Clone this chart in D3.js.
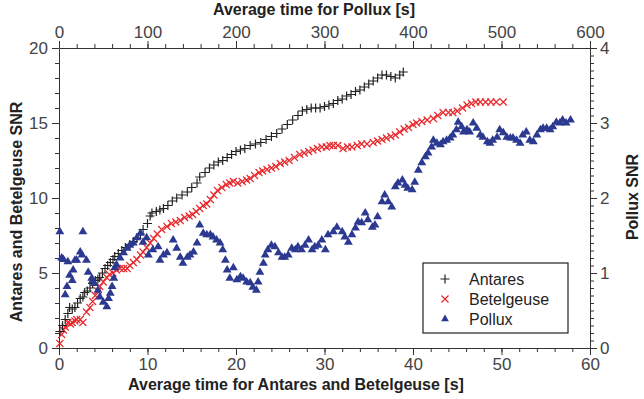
<!DOCTYPE html>
<html>
<head>
<meta charset="utf-8">
<script src="https://cdn.jsdelivr.net/npm/d3@7"></script>
<style>
  body { margin: 0; background: #fff; }
  svg { display: block; font-family: "Liberation Sans", Arial, sans-serif; }
  .tick text { fill: #444; font-size: 17px; }
  .domain, .tick line { stroke: #333; }
  .title { font-weight: bold; font-size: 16px; fill: #222; }
</style>
</head>
<body>
<svg width="644" height="399"></svg>
<script>
// Antares: time [s], SNR
var antaresT = [0.1,0.4,0.7,1.0,1.2,1.5,1.8,2.1,2.4,2.7,2.9,3.2,3.5,3.8,4.1,4.4,4.6,4.9,5.2,5.5,5.8,6.1,6.3,6.7,7.1,7.5,8.0,8.4,8.8,9.2,9.5,10.0,10.3,10.5,11.0,11.4,11.8,12.3,12.8,13.3,13.9,14.5,15.0,15.6,15.9,16.5,17.0,17.5,18.0,18.5,19.0,19.5,20.0,20.5,21.0,21.6,22.2,22.8,23.4,24.0,24.6,25.2,25.8,26.4,27.0,27.5,28.0,28.5,29.0,29.5,30.0,30.5,31.0,31.5,32.0,32.5,33.0,33.5,34.0,34.5,35.0,35.5,36.0,36.5,37.0,37.5,38.0,38.5,38.9];
var antaresSNR = [1.1,1.5,1.9,2.3,2.7,2.6,2.7,3.0,3.3,3.4,3.7,3.8,4.0,4.3,4.5,4.6,4.7,5.0,5.3,5.5,5.7,5.9,6.1,6.3,6.5,6.7,6.9,7.1,7.3,7.6,7.9,8.3,8.8,9.0,9.1,9.2,9.3,9.5,9.8,10.0,10.2,10.4,10.7,11.0,11.4,11.7,12.0,12.2,12.4,12.5,12.7,12.9,13.1,13.2,13.3,13.5,13.6,13.7,13.9,14.1,14.3,14.6,14.9,15.2,15.5,15.8,15.9,16.0,16.0,16.0,16.1,16.2,16.3,16.5,16.6,16.8,16.9,17.1,17.2,17.4,17.6,17.8,18.0,18.2,18.2,18.1,18.0,18.2,18.4];

// Betelgeuse: time [s], SNR
var betelT = [0.1,0.3,0.5,0.7,1.0,1.3,1.5,1.8,2.0,2.4,2.7,3.1,3.5,3.8,4.1,4.4,4.6,5.0,5.4,5.7,6.1,6.5,6.9,7.3,7.7,8.0,8.4,8.8,9.2,9.5,9.9,10.3,10.7,11.1,11.6,12.2,12.7,13.2,13.7,14.2,14.7,15.1,15.5,15.9,16.3,16.7,17.1,17.5,17.9,18.4,18.9,19.3,19.7,20.2,20.7,21.2,21.6,22.1,22.6,23.0,23.5,24.0,24.5,25.0,25.5,26.0,26.6,27.2,27.7,28.2,28.7,29.2,29.7,30.2,30.6,31.0,31.5,32.1,32.6,33.1,33.7,34.2,34.8,35.5,36.0,36.5,37.0,37.5,38.0,38.5,39.0,39.5,40.0,40.4,41.0,41.6,42.3,42.8,43.4,44.0,44.5,45.0,45.6,46.1,46.6,47.1,47.6,48.2,48.8,49.4,50.2];
var betelSNR = [0.3,0.9,1.2,1.4,1.7,1.6,1.7,1.8,1.9,1.9,1.7,2.4,2.7,3.1,3.5,3.8,4.1,4.4,4.7,4.9,5.0,5.2,5.3,5.3,5.3,5.5,5.7,5.9,6.2,6.4,6.7,7.0,7.3,7.6,7.9,8.1,8.3,8.4,8.5,8.7,8.8,8.9,9.1,9.3,9.5,9.6,9.9,10.2,10.5,10.7,10.9,11.0,11.1,11.0,11.1,11.2,11.3,11.5,11.7,11.8,11.9,12.0,12.1,12.3,12.4,12.5,12.7,12.9,13.0,13.1,13.2,13.3,13.4,13.4,13.5,13.5,13.5,13.3,13.4,13.4,13.5,13.6,13.6,13.7,13.8,13.9,14.0,14.1,14.2,14.4,14.6,14.7,14.9,15.0,15.1,15.2,15.3,15.5,15.7,15.7,15.7,15.8,16.0,16.2,16.3,16.4,16.4,16.4,16.4,16.4,16.4];

// Pollux: time [s] (top axis), SNR (right axis)
var polluxT = [1,3,5,7,9,10,12,15,16,18,20,24,26,27,31,33,37,38,40,44,46,50,54,56,58,60,62,63,65,69,73,77,80,84,88,92,95,99,101,106,112,114,118,122,129,133,137,140,145,148,152,156,159,163,167,171,174,178,182,185,188,190,193,197,201,205,208,212,216,219,223,225,227,231,233,236,240,244,248,252,255,259,263,267,270,274,278,282,286,289,293,297,301,304,310,314,320,323,327,331,335,338,342,346,349,354,357,360,365,368,372,376,380,383,388,391,394,399,402,406,410,414,417,421,423,427,431,434,438,442,445,449,451,455,457,461,464,468,472,476,479,484,487,490,495,498,502,506,510,513,517,521,524,528,532,536,540,544,547,551,555,558,562,566,569,573,578];
var polluxSNR = [1.55,1.2,1.18,0.71,0.82,1.15,0.97,0.9,1.04,1.17,1.17,1.28,1.24,1.55,1.17,1.01,0.93,0.9,0.86,0.77,0.68,0.61,0.55,0.66,0.73,0.82,0.93,1.07,1.11,1.2,1.27,1.33,1.37,1.4,1.47,1.53,1.41,1.47,1.24,1.31,1.35,1.17,1.24,1.27,1.44,1.33,1.21,1.13,1.21,1.24,1.28,1.4,1.64,1.53,1.51,1.51,1.48,1.44,1.4,1.31,1.17,1.04,0.93,1.07,0.91,0.95,0.93,0.88,0.87,0.81,0.77,0.88,1.01,1.13,1.24,1.31,1.37,1.35,1.27,1.21,1.21,1.24,1.33,1.31,1.35,1.31,1.37,1.44,1.31,1.35,1.37,1.44,1.31,1.51,1.55,1.61,1.55,1.48,1.41,1.51,1.6,1.68,1.67,1.8,1.71,1.61,1.64,1.75,1.95,2.04,1.95,1.88,2.15,2.2,2.24,2.17,2.13,2.11,2.21,2.37,2.47,2.55,2.6,2.68,2.77,2.73,2.71,2.75,2.77,2.8,2.84,2.91,3.01,2.95,2.88,2.91,2.88,3.0,2.93,2.84,2.81,2.75,2.73,2.77,2.81,2.91,2.87,2.81,2.8,2.8,2.77,2.73,2.84,2.88,2.77,2.75,2.84,2.91,2.93,2.93,2.91,2.95,3.01,3.0,3.04,3.0,3.04];

var seriesNames = ["Antares", "Betelgeuse", "Pollux"];
var seriesColors = ["#222222", "#e8262a", "#2b3990"];

var svg = d3.select("svg"),
    plotLeft = 59, plotRight = 590, plotTop = 48, plotBottom = 348;

var x = d3.scaleLinear().domain([0, 60]).range([plotLeft, plotRight]),
    xTop = d3.scaleLinear().domain([0, 600]).range([plotLeft, plotRight]),
    y = d3.scaleLinear().domain([0, 20]).range([plotBottom, plotTop]),
    yRight = d3.scaleLinear().domain([0, 4]).range([plotBottom, plotTop]);

// minor ticks first, then major axes with labels
function minor(axis, scale, step, pos) {
    svg.append("g")
        .attr("transform", pos)
        .call(axis(scale).tickValues(d3.range(scale.domain()[0], scale.domain()[1] + step / 2, step)).tickSize(4).tickFormat(""))
        .select(".domain").remove();
}
minor(d3.axisBottom, x, 2, "translate(0," + plotBottom + ")");
minor(d3.axisTop, xTop, 20, "translate(0," + plotTop + ")");
minor(d3.axisLeft, y, 1, "translate(" + plotLeft + ",0)");
minor(d3.axisRight, yRight, 0.1, "translate(" + plotRight + ",0)");

svg.append("g").attr("transform", "translate(0," + plotBottom + ")")
    .call(d3.axisBottom(x).ticks(6).tickSize(7).tickPadding(3).tickSizeOuter(0));
svg.append("g").attr("transform", "translate(0," + plotTop + ")")
    .call(d3.axisTop(xTop).ticks(6).tickSize(7).tickPadding(3).tickSizeOuter(0));
svg.append("g").attr("transform", "translate(" + plotLeft + ",0)")
    .call(d3.axisLeft(y).ticks(4).tickSize(7).tickPadding(4).tickSizeOuter(0));
svg.append("g").attr("transform", "translate(" + plotRight + ",0)")
    .call(d3.axisRight(yRight).ticks(4).tickSize(7).tickPadding(3).tickSizeOuter(0));

// axis titles
svg.append("text").attr("class", "title").attr("x", 296).attr("y", 390)
    .attr("text-anchor", "middle").text("Average time for Antares and Betelgeuse [s]");
svg.append("text").attr("class", "title").attr("x", 314).attr("y", 15)
    .attr("text-anchor", "middle").text("Average time for Pollux [s]");
svg.append("text").attr("class", "title")
    .attr("transform", "translate(22,212) rotate(-90)")
    .attr("text-anchor", "middle").text("Antares and Betelgeuse SNR");
svg.append("text").attr("class", "title")
    .attr("transform", "translate(638,197) rotate(-90)")
    .attr("text-anchor", "middle").text("Pollux SNR");

var plusPath = "M-4.5,0H4.5M0,-4.5V4.5",
    crossPath = "M-3.5,-3.5L3.5,3.5M3.5,-3.5L-3.5,3.5",
    triPath = d3.symbol().type(d3.symbolTriangle).size(34)();

var g = svg.append("g");

g.selectAll(".bet").data(d3.range(betelT.length)).enter().append("path")
    .attr("class", "bet")
    .attr("transform", function(i) { return "translate(" + x(betelT[i]) + "," + y(betelSNR[i]) + ")"; })
    .attr("d", crossPath).attr("stroke", seriesColors[1]).attr("stroke-width", 1.1).attr("fill", "none");

g.selectAll(".ant").data(d3.range(antaresT.length)).enter().append("path")
    .attr("class", "ant")
    .attr("transform", function(i) { return "translate(" + x(antaresT[i]) + "," + y(antaresSNR[i]) + ")"; })
    .attr("d", plusPath).attr("stroke", seriesColors[0]).attr("stroke-width", 1.2).attr("fill", "none");

g.selectAll(".pol").data(d3.range(polluxT.length)).enter().append("path")
    .attr("class", "pol")
    .attr("transform", function(i) { return "translate(" + xTop(polluxT[i]) + "," + yRight(polluxSNR[i]) + ")"; })
    .attr("d", triPath).attr("fill", seriesColors[2]);

// legend
var legend = svg.append("g").attr("transform", "translate(423,263)");
legend.append("rect").attr("width", 145).attr("height", 70)
    .attr("fill", "#fff").attr("stroke", "#222").attr("stroke-width", 1.2);
var shapes = [plusPath, crossPath, d3.symbol().type(d3.symbolTriangle).size(26)()];
seriesNames.forEach(function(name, i) {
    var row = legend.append("g").attr("transform", "translate(22," + (16 + i * 20) + ")");
    var p = row.append("path").attr("d", shapes[i]);
    if (i < 2) p.attr("stroke", seriesColors[i]).attr("stroke-width", 1.2).attr("fill", "none");
    else p.attr("fill", seriesColors[i]);
    row.append("text").attr("x", 24).attr("y", 6).attr("font-size", 16).attr("fill", "#222").text(name);
});
</script>
</body>
</html>
